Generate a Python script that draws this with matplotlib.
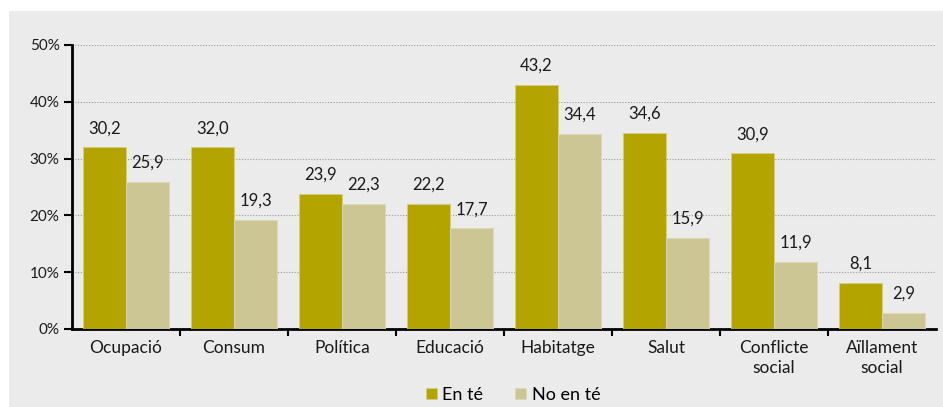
import matplotlib.pyplot as plt
import numpy as np
from matplotlib.patches import Rectangle

categories = ["Ocupació", "Consum", "Política", "Educació", "Habitatge",
              "Salut", "Conflicte\nsocial", "Aïllament\nsocial"]
en_te = [32.0, 32.0, 23.8, 22.0, 43.0, 34.5, 30.9, 8.1]
no_en_te = [25.9, 19.2, 22.0, 17.7, 34.4, 16.0, 11.8, 2.9]
en_te_labels = ["30,2", "32,0", "23,9", "22,2", "43,2", "34,6", "30,9", "8,1"]
no_en_te_labels = ["25,9", "19,3", "22,3", "17,7", "34,4", "15,9", "11,9", "2,9"]
yticks = [0, 10, 20, 30, 40, 50]

gold = "#b4a400"
light = "#ccc594"
txt = "#1a1a1a"

plt.rcParams["font.family"] = ["Lato", "DejaVu Sans"]

fig = plt.figure(figsize=(9.43, 4.07), dpi=100)
fig.patches.append(Rectangle((9 / 943, 0), 1, 1 - 11 / 407, transform=fig.transFigure,
                             facecolor="#ebebeb", edgecolor="none", zorder=-10))

ax = fig.add_axes([72 / 943, 78 / 407, 864 / 943, 284 / 407])
ax.set_facecolor("none")

x = np.arange(len(categories))
w = 0.4
b1 = ax.bar(x - w / 2, en_te, w, color=gold, edgecolor="#d6cd7a", linewidth=0.6,
            label="En té", zorder=3)
b2 = ax.bar(x + w / 2, no_en_te, w, color=light, edgecolor="#ddd8b4", linewidth=0.6,
            label="No en té", zorder=3)

for bars, labels in [(b1, en_te_labels), (b2, no_en_te_labels)]:
    for rect, lab in zip(bars, labels):
        ax.annotate(lab, (rect.get_x() + rect.get_width() / 2, rect.get_height()),
                    xytext=(0, 8), textcoords="offset points", ha="center", va="bottom",
                    fontsize=12, color=txt)

ax.set_xlim(-0.5, len(categories) - 0.5)
ax.set_ylim(0, 50)
ax.set_yticks(yticks)
ax.set_yticklabels([f"{t}%" for t in yticks], fontsize=11, color=txt)
ax.yaxis.grid(True, linestyle=(0, (1, 1.5)), color="#9a9a9a", linewidth=0.8, zorder=0)

ax.set_xticks(x)
ax.set_xticklabels(categories, fontsize=12.5, color=txt, linespacing=1.3)
ax.set_xticks(np.arange(0.5, len(categories) - 0.5), minor=True)
ax.tick_params(axis="x", which="major", length=0, pad=8)
ax.tick_params(axis="x", which="minor", length=5, width=1.5, color="black")
ax.tick_params(axis="y", length=6, width=1.5, color="black", pad=3)

for s in ["top", "right"]:
    ax.spines[s].set_visible(False)
for s in ["left", "bottom"]:
    ax.spines[s].set_linewidth(2)
    ax.spines[s].set_color("black")

fig.legend(handles=[b1, b2], loc="lower center", bbox_to_anchor=(513 / 943, -0.03),
           ncol=2, frameon=False, fontsize=13, handlelength=0.6, handleheight=0.6,
           handletextpad=0.3, columnspacing=1.8)

fig.savefig("out.png", dpi=100)
